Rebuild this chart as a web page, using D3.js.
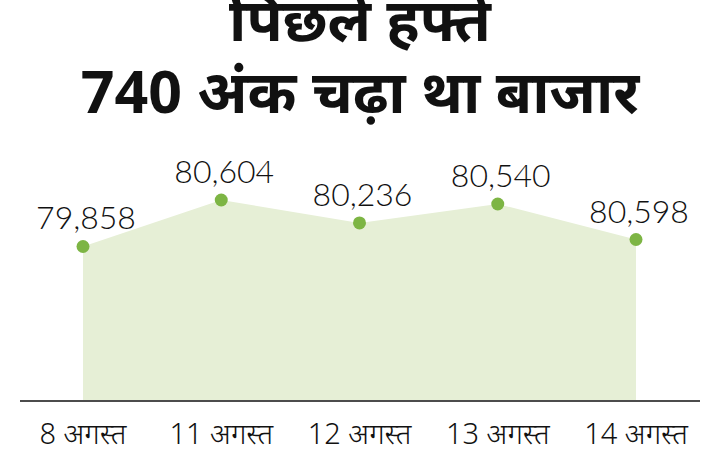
<!DOCTYPE html>
<html><head><meta charset="utf-8">
<script src="https://cdn.jsdelivr.net/npm/d3@7/dist/d3.min.js"></script>
<style>
html,body{margin:0;padding:0;background:#fff;}
svg{display:block;}
</style></head>
<body>
<script>
const titleLines = ["पिछले हफ्ते", "740 अंक चढ़ा था बाजार"];
const categories = ["8 अगस्त", "11 अगस्त", "12 अगस्त", "13 अगस्त", "14 अगस्त"];
const closeLabels = [79858, 80604, 80236, 80540, 80598];
// plotted levels as drawn in the graphic
const plotLevels = [79858, 80604, 80236, 80540, 79970];

const W = 720, H = 470;
const svg = d3.select("body").append("svg").attr("width", W).attr("height", H);

const x = d3.scalePoint().domain(categories).range([83, 636]);
const y = d3.scaleLinear().domain([77394, 80604]).range([400, 200]);

// area
const area = d3.area().x((d,i)=>x(categories[i])).y0(400).y1(d=>y(d));
svg.append("path").datum(plotLevels).attr("d", area).attr("fill", "#e6efd6");

// axis line
svg.append("line").attr("x1", 20).attr("x2", 700).attr("y1", 401).attr("y2", 401)
  .attr("stroke", "#111").attr("stroke-width", 1.3);

// dots
svg.selectAll("circle.dot").data(plotLevels).enter().append("circle")
  .attr("cx", (d,i)=>x(categories[i])).attr("cy", d=>y(d)).attr("r", 6.5)
  .attr("fill", "#7db544");

// value labels
const fmt = d3.format(",");
svg.selectAll("text.val").data(plotLevels).enter().append("text")
  .attr("x", (d,i)=>x(categories[i]) + 3).attr("y", d=>y(d) - 17)
  .attr("text-anchor", "middle")
  .attr("font-family", "Lato, 'Open Sans', sans-serif").attr("font-weight", 300)
  .attr("font-size", 32).attr("fill", "#111")
  .text((d,i)=>fmt(closeLabels[i]));

// x labels
svg.selectAll("text.cat").data(categories).enter().append("text")
  .attr("x", d=>x(d)).attr("y", 444)
  .attr("text-anchor", "middle")
  .attr("font-family", "'Noto Sans', 'Noto Sans Devanagari', sans-serif")
  .attr("font-weight", 300)
  .attr("font-size", 29).attr("fill", "#111")
  .text(d=>d);

// title
svg.selectAll("text.title").data(titleLines).enter().append("text")
  .attr("x", 360).attr("y", (d,i)=> i===0 ? 41 : 113)
  .attr("text-anchor", "middle")
  .attr("font-family", "'Noto Sans', 'Noto Sans Devanagari', sans-serif")
  .attr("font-weight", 700).attr("font-size", 59).attr("fill", "#111")
  .text(d=>d);
</script>
</body></html>
